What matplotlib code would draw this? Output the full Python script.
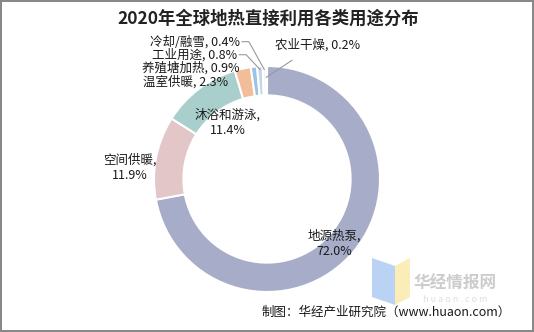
import matplotlib.pyplot as plt
import numpy as np
from matplotlib.patches import Polygon

plt.rcParams['font.family'] = ['Noto Sans CJK SC', 'DejaVu Sans']

# data
categories = ["地源热泵", "空间供暖", "沐浴和游泳", "温室供暖",
              "养殖塘加热", "工业用途", "冷却/融雪", "农业干燥"]
shares = [72.0, 11.9, 11.4, 2.3, 0.9, 0.8, 0.4, 0.2]
colors = ["#A7ACC8", "#E2C6C8", "#A9CFCC", "#F2BD98",
          "#9EC3DE", "#C4D9E8", "#DCE8F0", "#E8EEF3"]

W, H = 534, 332
fig = plt.figure(figsize=(W / 100, H / 100), dpi=100)
fig.patch.set_edgecolor("#888888")
fig.patch.set_linewidth(1.5)

# pie axes: centre (267,179) px, radius 113 px
cx, cy, r = 267, 179, 113
ax = fig.add_axes([(cx - r) / W, (H - cy - r) / H, 2 * r / W, 2 * r / H])
wedges, _ = ax.pie(shares, colors=colors, startangle=90, counterclock=False,
                   radius=1.0, wedgeprops=dict(width=0.26, edgecolor="white", linewidth=1.5))
ax.set_xlim(-1, 1)
ax.set_ylim(-1, 1)
ax.set_aspect("equal")
ax.axis("off")

fs = 9
# label positions (data units of pie axes)
pos = {
    "地源热泵": (0.60, -0.57, "center"),
    "空间供暖": (-1.21, 0.10, "center"),
    "沐浴和游泳": (-0.35, 0.50, "center"),
    "温室供暖": (-0.34, 0.86, "right"),
    "养殖塘加热": (-0.24, 0.985, "right"),
    "工业用途": (-0.265, 1.10, "right"),
    "冷却/融雪": (-0.24, 1.215, "right"),
    "农业干燥": (0.07, 1.19, "left"),
}
two_line = {"地源热泵", "空间供暖", "沐浴和游泳"}
for name, val in zip(categories, shares):
    x, y, ha = pos[name]
    if name in two_line:
        txt = f"{name},\n{val:.1f}%"
    else:
        txt = f"{name}, {val:.1f}%"
    ax.text(x, y, txt, ha=ha, va="center", fontsize=fs, color="#1a1a1a",
            linespacing=1.25, clip_on=False)

# leader lines for the thinnest slices
total = sum(shares)
cum = np.cumsum(shares) - np.array(shares) / 2
mid = {n: np.deg2rad(90 - 360 * c / total) for n, c in zip(categories, cum)}
for name, (lx, ly) in [("冷却/融雪", (-0.22, 1.215)), ("工业用途", (-0.245, 1.10))]:
    a = mid[name]
    px, py = np.cos(a) * 0.97, np.sin(a) * 0.97
    ax.plot([lx, lx + 0.06, px], [ly, ly, py], color="#999999", lw=0.8, clip_on=False)
a = mid["农业干燥"]
ax.plot([0.22, np.cos(a) * 0.9], [1.05, np.sin(a) * 0.9], color="#999999", lw=0.8, clip_on=False)

fig.text(0.502, 0.945, "2020年全球地热直接利用各类用途分布", ha="center", va="center",
         fontsize=12.5, fontweight="bold", color="#222222")
fig.text(0.957, 0.06, "制图：华经产业研究院（www.huaon.com）", ha="right", va="center",
         fontsize=9, color="#1a1a1a")

# watermark
fig.patches.append(Polygon([(372 / W, 1 - 258 / H), (395 / W, 1 - 266 / H),
                            (395 / W, 1 - 305 / H), (372 / W, 1 - 297 / H)],
                           closed=True, transform=fig.transFigure,
                           facecolor="#A9C9F2", edgecolor="none", alpha=0.8))
fig.patches.append(Polygon([(395 / W, 1 - 266 / H), (410 / W, 1 - 258 / H),
                            (410 / W, 1 - 297 / H), (395 / W, 1 - 305 / H)],
                           closed=True, transform=fig.transFigure,
                           facecolor="#F9E9A6", edgecolor="none", alpha=0.8))
fig.text(455 / W, 1 - 284 / H, "华经情报网", ha="center", va="center",
         fontsize=12, fontweight="bold", color="#CCCCCC")
fig.text(455 / W, 1 - 299 / H, "h u a o n . c o m", ha="center", va="center",
         fontsize=6.5, color="#DDDDDD")

fig.savefig("out.png", dpi=100)
